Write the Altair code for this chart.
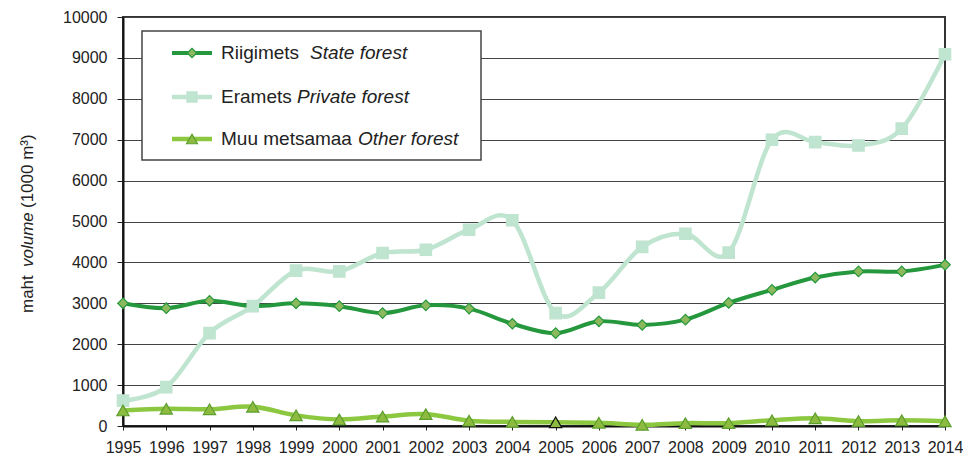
import altair as alt
import pandas as pd

years = [1995, 1996, 1997, 1998, 1999, 2000, 2001, 2002, 2003, 2004,
         2005, 2006, 2007, 2008, 2009, 2010, 2011, 2012, 2013, 2014]
state = [3000, 2880, 3060, 2930, 3000, 2930, 2760, 2950, 2870, 2500,
         2270, 2560, 2470, 2600, 3010, 3330, 3630, 3780, 3780, 3940]
private = [620, 950, 2270, 2930, 3800, 3780, 4230, 4310, 4800, 5030,
           2760, 3260, 4380, 4700, 4240, 7000, 6940, 6860, 7270, 9090]
other = [380, 420, 410, 470, 260, 160, 230, 290, 130, 100,
         90, 80, 30, 70, 70, 140, 190, 120, 140, 115]

series_et = ["Riigimets", "Eramets", "Muu metsamaa"]
series_en = ["State forest", "Private forest", "Other forest"]
y_ticks = [0, 1000, 2000, 3000, 4000, 5000, 6000, 7000, 8000, 9000, 10000]

rows = []
for name, vals in zip(series_et, [state, private, other]):
    for yr, v in zip(years, vals):
        rows.append({"year": yr, "series": name, "value": v})
df = pd.DataFrame(rows)

FONT = "Liberation Sans"
styles = {
    "Riigimets": dict(line="#25983D", fill="#8DB95E", stroke="#25983D", shape="diamond", size=110, width=4),
    "Eramets": dict(line="#BFE4CF", fill="#BFE4CF", stroke="#BFE4CF", shape="square", size=130, width=4.5),
    "Muu metsamaa": dict(line="#8CC740", fill="#8DBB40", stroke="#5C9E2E", shape="triangle-up", size=150, width=4.5),
}

x_enc = alt.X("year:Q",
              scale=alt.Scale(domain=[1995, 2014], nice=False, zero=False),
              axis=alt.Axis(values=years, format="d", title=None, grid=False,
                            labelFontSize=16, labelFont=FONT, labelColor="#222",
                            tickSize=4, tickColor="#222", labelPadding=9,
                            domainColor="#111", domainWidth=2, labelFlush=False))
y_enc = alt.Y("value:Q",
              scale=alt.Scale(domain=[0, 10000], nice=False),
              axis=alt.Axis(values=y_ticks, format="d", title=None, grid=True, gridColor="#444",
                            gridWidth=1.2, labelFontSize=16, labelFont=FONT,
                            labelColor="#222", tickSize=6, tickColor="#222",
                            labelPadding=10, domainColor="#111", domainWidth=2))

base = alt.Chart(df)
layers = []
for name in series_et:
    s = styles[name]
    sub = base.transform_filter(alt.datum.series == name)
    layers.append(sub.mark_line(interpolate="cardinal", color=s["line"], strokeWidth=s["width"])
                  .encode(x=x_enc, y=y_enc))
    if name == "Muu metsamaa":
        stroke = alt.condition("datum.year == 2005", alt.value("#111111"), alt.value(s["stroke"]))
    else:
        stroke = alt.value(s["stroke"])
    layers.append(sub.mark_point(filled=True, shape=s["shape"], size=s["size"], fill=s["fill"],
                                 strokeWidth=1.2, opacity=1)
                  .encode(x=x_enc, y=y_enc, stroke=stroke))

# manual legend (mixed upright / italic labels)
one = pd.DataFrame({"k": [0]})
legend_layers = [
    alt.Chart(one).mark_rect(fill="white", stroke="#444", strokeWidth=1.5)
    .encode(x=alt.value(19), x2=alt.value(358), y=alt.value(14), y2=alt.value(143))
]
row_y = [36, 80, 122]
italic_x = [187, 174, 235]
for name, en, ry, ix in zip(series_et, series_en, row_y, italic_x):
    s = styles[name]
    legend_layers.append(alt.Chart(one).mark_rule(color=s["line"], strokeWidth=s["width"])
                         .encode(x=alt.value(49), x2=alt.value(89), y=alt.value(ry)))
    legend_layers.append(alt.Chart(one).mark_point(filled=True, shape=s["shape"], size=s["size"] * 0.8,
                                                   fill=s["fill"], stroke=s["stroke"], strokeWidth=1.2, opacity=1)
                         .encode(x=alt.value(69), y=alt.value(ry)))
    legend_layers.append(alt.Chart(one).mark_text(text=name, align="left", baseline="middle",
                                                  font=FONT, fontSize=19, color="#222")
                         .encode(x=alt.value(98), y=alt.value(ry)))
    legend_layers.append(alt.Chart(one).mark_text(text=en, align="left", baseline="middle",
                                                  font=FONT, fontSize=19, fontStyle="italic", color="#222")
                         .encode(x=alt.value(ix), y=alt.value(ry)))

# y-axis title: "maht  volume (1000 m³)"
title_parts = [("maht", "normal", 296), ("volume", "italic", 250), ("(1000 m³)", "normal", 191)]
for txt, style, yy in title_parts:
    legend_layers.append(alt.Chart(one).mark_text(text=txt, align="left", baseline="middle", angle=270,
                                                  font=FONT, fontSize=17, fontStyle=style, color="#222")
                         .encode(x=alt.value(-95), y=alt.value(yy)))

chart = alt.layer(*layers, *legend_layers).properties(
    width=822, height=409,
    autosize=alt.AutoSizeParams(type="none"),
    padding={"left": 115, "top": 9, "right": 18, "bottom": 34},
).configure_view(stroke="#333", strokeWidth=2)

chart.save("out.html", embed_options={"renderer": "svg", "actions": False})
